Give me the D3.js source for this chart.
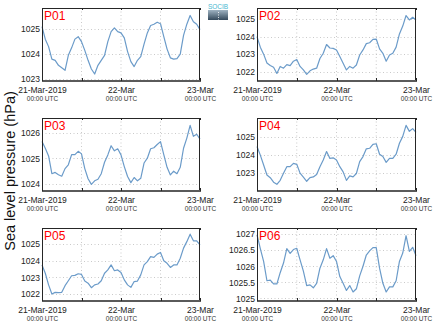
<!DOCTYPE html>
<html><head><meta charset="utf-8">
<script src="https://cdn.jsdelivr.net/npm/d3@7"></script>
<style>
html,body{margin:0;padding:0;background:#fff;}
svg{display:block;font-family:"Liberation Sans",Arial,Helvetica,sans-serif;}
</style></head>
<body>
<svg id="chart" width="434" height="327"></svg>
<script>
const stations = ["P01","P02","P03","P04","P05","P06"];
const startTime = "2019-03-21T00:00:00Z";
const endTime = "2019-03-23T00:00:00Z";
const stepHours = 1;

const p01 = [1025.1,1024.6,1024.3,1023.8,1023.75,1023.55,1023.45,1023.35,1023.95,1024.25,1024.6,1024.7,1024.5,1024.15,1023.75,1023.4,1023.2,1023.55,1023.75,1023.95,1024.5,1024.9,1025.05,1024.9,1024.85,1024.65,1024.1,1023.7,1023.5,1023.75,1023.9,1024.4,1024.85,1025.15,1025.2,1025.28,1025.22,1024.7,1024.2,1023.85,1023.8,1023.82,1024.0,1024.75,1025.2,1025.55,1025.3,1025.2,1024.98];
const p02 = [1024.0,1023.4,1023.0,1022.5,1022.35,1022.25,1021.9,1022.3,1022.2,1022.4,1022.35,1022.6,1022.7,1022.3,1022.1,1021.85,1022.05,1022.15,1022.2,1022.75,1023.05,1023.55,1023.35,1023.33,1023.24,1022.86,1022.48,1022.1,1022.3,1022.2,1022.38,1022.95,1023.24,1023.6,1023.65,1023.84,1023.86,1023.3,1023.05,1022.6,1022.95,1023.05,1023.4,1024.15,1024.6,1025.2,1024.95,1025.1,1024.95];
const p03 = [1025.67,1025.4,1025.1,1024.4,1024.45,1024.36,1024.3,1024.6,1024.75,1025.15,1025.15,1025.28,1025.18,1024.6,1024.2,1023.98,1024.12,1024.18,1024.4,1024.85,1025.14,1025.5,1025.3,1025.38,1025.14,1024.68,1024.29,1024.05,1024.25,1024.12,1024.22,1024.82,1025.01,1025.38,1025.42,1025.55,1025.66,1025.15,1024.65,1024.35,1024.5,1024.4,1024.65,1025.4,1025.8,1026.3,1025.87,1025.95,1025.76];
const p04 = [1024.48,1024.0,1023.45,1022.9,1022.75,1022.5,1022.38,1022.6,1023.0,1023.36,1023.36,1023.54,1023.49,1023.0,1022.78,1022.55,1022.75,1022.79,1022.93,1023.36,1023.73,1024.2,1023.82,1023.85,1023.73,1023.36,1023.07,1022.6,1022.85,1022.79,1022.98,1023.64,1023.92,1024.35,1024.38,1024.6,1024.63,1024.05,1023.92,1023.6,1023.82,1023.82,1024.05,1024.66,1025.04,1025.65,1025.32,1025.47,1025.26];
const p05 = [1023.75,1023.25,1022.55,1022.0,1022.1,1022.08,1022.1,1022.5,1022.8,1023.1,1023.12,1023.22,1023.18,1022.78,1022.65,1022.38,1022.55,1022.6,1022.8,1023.25,1023.45,1023.75,1023.4,1023.45,1023.3,1022.85,1022.55,1022.4,1022.75,1022.78,1023.15,1023.75,1023.95,1024.25,1024.2,1024.4,1024.5,1024.0,1023.85,1023.6,1023.75,1023.75,1024.15,1024.76,1025.15,1025.6,1025.2,1025.2,1024.96];
const p06 = [1026.98,1026.55,1026.15,1025.55,1025.57,1025.45,1025.45,1025.8,1026.1,1026.55,1026.4,1026.52,1026.56,1026.2,1025.85,1025.4,1025.42,1025.33,1025.47,1025.94,1026.2,1026.55,1026.25,1026.33,1026.15,1025.68,1025.47,1025.25,1025.4,1025.2,1025.3,1025.7,1026.0,1026.35,1026.48,1026.58,1026.58,1025.94,1025.47,1025.2,1025.36,1025.36,1025.55,1026.15,1026.41,1026.95,1026.46,1026.59,1026.33];
const seriesValues = [p01,p02,p03,p04,p05,p06];

const yDomains = [[1022.92,1025.85],[1021.47,1025.63],[1023.72,1026.59],[1022.01,1026.06],[1021.58,1025.97],[1024.92,1027.19]];
const yTicks = [[1023,1024,1025],[1022,1023,1024,1025],[1024,1025,1026],[1023,1024,1025],[1022,1023,1024,1025],[1025,1025.5,1026,1026.5,1027]];
const xTickLabels = ["21-Mar-2019","22-Mar","23-Mar"];
const xSubLabel = "00:00 UTC";
const yAxisTitle = "Sea level pressure (hPa)";

const svg = d3.select("#chart");
const colX = [[42,200],[257,416]];
const rowY = [8,118,228];
const ph = 73;
const lineColor = "#6b9bc9";

const t0 = new Date(startTime), t1 = new Date(endTime);

stations.forEach((name,i)=>{
  const c = i%2, r = Math.floor(i/2);
  const [x0,x1] = colX[c];
  const y0 = rowY[r], y1 = y0+ph;
  const x = d3.scaleUtc().domain([t0,t1]).range([x0,x1]);
  const y = d3.scaleLinear().domain(yDomains[i]).range([y1,y0]);
  const g = svg.append("g");
  const grid12 = d3.range(0,49,12).map(h=>new Date(t0.getTime()+h*3600e3));
  // grid
  g.selectAll(".vg").data(grid12.slice(1,-1)).join("line")
    .attr("x1",d=>x(d)).attr("x2",d=>x(d)).attr("y1",y0).attr("y2",y1)
    .attr("stroke","#bdbdbd").attr("stroke-width",0.8).attr("stroke-dasharray","1,2.5");
  g.selectAll(".hg").data(yTicks[i]).join("line")
    .attr("x1",x0).attr("x2",x1).attr("y1",d=>Math.round(y(d))+0.5).attr("y2",d=>Math.round(y(d))+0.5)
    .attr("stroke","#bdbdbd").attr("stroke-width",0.8).attr("stroke-dasharray","1,2.5");
  // line
  const data = seriesValues[i].map((v,k)=>({t:new Date(t0.getTime()+k*stepHours*3600e3),v}));
  g.append("path").datum(data)
    .attr("d",d3.line().x(d=>x(d.t)).y(d=>y(d.v)))
    .attr("fill","none").attr("stroke",lineColor).attr("stroke-width",1.2).attr("stroke-linejoin","round");
  // frame
  g.append("rect").attr("x",x0+0.5).attr("y",y0+0.5).attr("width",x1-x0-1).attr("height",ph-1)
    .attr("fill","none").attr("stroke","#262626").attr("stroke-width",1);
  g.append("line").attr("x1",x0).attr("x2",x1+1).attr("y1",y1).attr("y2",y1)
    .attr("stroke","#5a5a5a").attr("stroke-width",2.2);
  // ticks inside
  g.selectAll(".tt").data(grid12).join("line")
    .attr("x1",d=>Math.round(x(d))+0.5).attr("x2",d=>Math.round(x(d))+0.5).attr("y1",y0).attr("y2",y0+2)
    .attr("stroke","#262626").attr("stroke-width",1);
  g.selectAll(".tb").data(grid12).join("line")
    .attr("x1",d=>Math.round(x(d))+0.5).attr("x2",d=>Math.round(x(d))+0.5).attr("y1",y1-3).attr("y2",y1)
    .attr("stroke","#262626").attr("stroke-width",1);
  // y axis labels
  const yAxis = d3.axisLeft(y).tickValues(yTicks[i]).tickSize(0).tickPadding(2)
    .tickFormat(d=>d3.format("")(d));
  const ya = g.append("g").attr("transform",`translate(${x0},0)`).call(yAxis);
  ya.select(".domain").remove();
  ya.selectAll("text").attr("font-size","8.5px").attr("fill","#222").attr("font-family","Liberation Sans, Arial, sans-serif");
  // x axis labels
  const labelDates = [0,24,48].map(h=>new Date(t0.getTime()+h*3600e3));
  const xAxis = d3.axisBottom(x).tickValues(labelDates).tickSize(0).tickPadding(0)
    .tickFormat((d,k)=>xTickLabels[k]);
  const xa = g.append("g").attr("transform",`translate(0,${y1})`).call(xAxis);
  xa.select(".domain").remove();
  xa.selectAll("text").attr("font-size","8.5px").attr("fill","#222").attr("y",11.5).attr("dy",null)
    .attr("font-family","Liberation Sans, Arial, sans-serif");
  xa.selectAll(".tick").append("text").text(xSubLabel)
    .attr("y",19.5).attr("font-size","6.5px").attr("fill","#333")
    .attr("text-anchor","middle").attr("font-family","Liberation Sans, Arial, sans-serif");
  // title
  g.append("text").attr("x",x0+2).attr("y",y0+12).text(name)
    .attr("font-size","12px").attr("fill","#ff0000");
});

// y axis title
svg.append("text").attr("transform","translate(15,171) rotate(-90)")
  .attr("text-anchor","middle").attr("font-size","14.5px").attr("fill","#111").text(yAxisTitle);

// logo
const defs = svg.append("defs");
const lg = defs.append("linearGradient").attr("id","lg").attr("x1",0).attr("y1",0).attr("x2",0).attr("y2",1);
lg.append("stop").attr("offset","0").attr("stop-color","#9fb3c2");
lg.append("stop").attr("offset","1").attr("stop-color","#34495b");
svg.append("rect").attr("x",208).attr("y",10).attr("width",20).attr("height",10).attr("fill","url(#lg)");
svg.append("line").attr("x1",218.5).attr("x2",218.5).attr("y1",12).attr("y2",20).attr("stroke","#fff").attr("stroke-dasharray","1,1.5").attr("stroke-width",0.8);
svg.append("text").attr("x",218).attr("y",9).attr("text-anchor","middle").attr("font-size","6.5px")
  .attr("fill","#48b8d0").text("SOCIB");
</script>
</body></html>
